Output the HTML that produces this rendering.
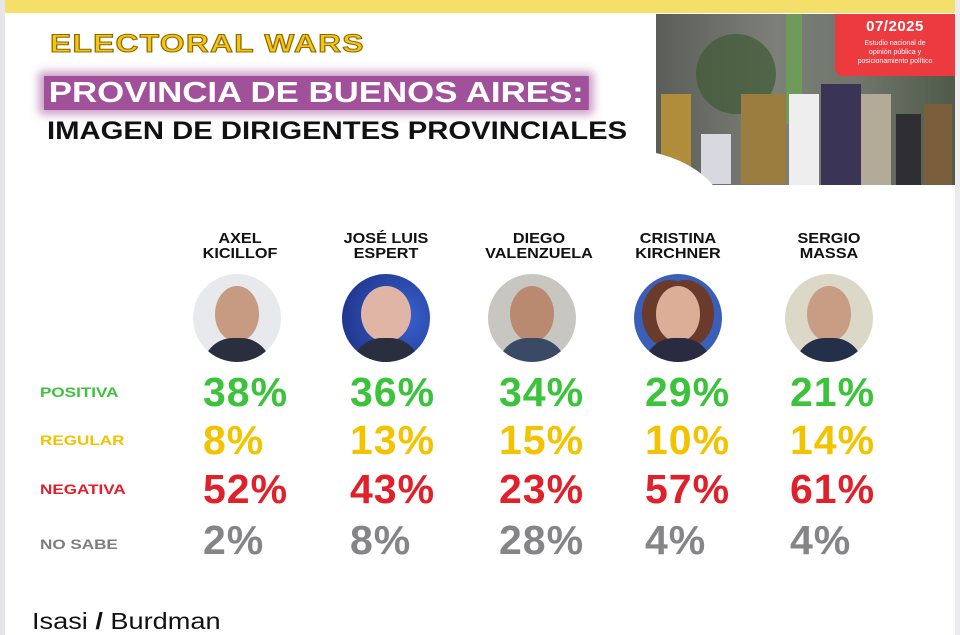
<!DOCTYPE html>
<html><head><meta charset="utf-8"><style>
body{margin:0;width:960px;height:635px;overflow:hidden;background:#fff;font-family:"Liberation Sans",sans-serif;position:relative}
.a{position:absolute}
.lab{position:absolute;left:40px;font-weight:bold;font-size:14px;line-height:16px;transform:scaleX(1.22);transform-origin:0 0}
.p{position:absolute;font-weight:bold;font-size:41px;line-height:41px;letter-spacing:1px}
.nm{position:absolute;width:140px;text-align:center;font-weight:bold;font-size:15px;line-height:15px;color:#111;transform:scaleX(1.08)}
.c{position:absolute;width:88px;height:88px;border-radius:50%;overflow:hidden;top:274px}
.face{position:absolute;left:22px;top:12px;width:44px;height:56px;border-radius:50%;background:#d6a890}
.body{position:absolute;left:10px;top:64px;width:68px;height:40px;border-radius:30px 30px 0 0;background:#2a2f40}
</style></head><body>
<div class="a" style="left:0;top:0;width:5px;height:635px;background:#e6e6ea"></div>
<div class="a" style="left:955px;top:0;width:5px;height:635px;background:#ececef"></div>
<div class="a" style="left:5px;top:0;width:950px;height:13px;background:#f4df6a"></div>

<div class="a" style="left:50px;top:30px;font-size:25px;font-weight:bold;color:#f6c416;letter-spacing:1px;-webkit-text-stroke:1px #8a6a00;line-height:28px;transform:scaleX(1.27);transform-origin:0 0">ELECTORAL WARS</div>
<div class="a" style="left:44px;top:76px;padding:0 4px;font-size:29px;font-weight:bold;color:#fff;line-height:34px;background:#a0519a;box-shadow:0 0 8px 4px rgba(160,81,154,.6);transform:scaleX(1.2);transform-origin:0 0">PROVINCIA DE BUENOS AIRES:</div>
<div class="a" style="left:47px;top:116px;font-size:25px;font-weight:bold;color:#111;line-height:30px;transform:scaleX(1.17);transform-origin:0 0">IMAGEN DE DIRIGENTES PROVINCIALES</div>

<div class="a" style="left:656px;top:14px;width:299px;height:171px;overflow:hidden;background:linear-gradient(90deg,#5b5e58,#7c8078 40%,#6d7468 70%,#4f5a4a);">
 <div class="a" style="left:40px;top:20px;width:80px;height:80px;border-radius:50%;background:#3f5a35;opacity:.7"></div>
 <div class="a" style="left:130px;top:0;width:16px;height:110px;background:#6e9b5a"></div>
 <div class="a" style="left:5px;top:80px;width:30px;height:90px;background:#b08d3a"></div>
 <div class="a" style="left:45px;top:120px;width:30px;height:50px;background:#d8d8e0"></div>
 <div class="a" style="left:85px;top:80px;width:45px;height:90px;background:#9a7d3f"></div>
 <div class="a" style="left:133px;top:80px;width:30px;height:91px;background:#eee"></div>
 <div class="a" style="left:165px;top:70px;width:40px;height:101px;background:#3a3456"></div>
 <div class="a" style="left:205px;top:80px;width:30px;height:91px;background:#b3aa98"></div>
 <div class="a" style="left:240px;top:100px;width:25px;height:71px;background:#2f2f33"></div>
 <div class="a" style="left:268px;top:90px;width:28px;height:81px;background:#7b5e3c"></div>
 <div class="a" style="left:-140px;top:135px;width:210px;height:140px;border-radius:50%;background:#fff"></div>
</div>
<div class="a" style="left:835px;top:14px;width:120px;height:62px;background:#ec3a3f;border-radius:0 0 0 8px;color:#fff;text-align:center">
 <div style="font-size:15px;font-weight:bold;line-height:18px;margin-top:4px;letter-spacing:.5px">07/2025</div>
 <div style="font-size:7px;line-height:9px;margin-top:3px">Estudio nacional de<br>opinión pública y<br>posicionamiento político</div>
</div>

<div class="nm" style="left:170px;top:231px">AXEL<br>KICILLOF</div>
<div class="nm" style="left:316px;top:231px">JOSÉ LUIS<br>ESPERT</div>
<div class="nm" style="left:469px;top:231px">DIEGO<br>VALENZUELA</div>
<div class="nm" style="left:608px;top:231px">CRISTINA<br>KIRCHNER</div>
<div class="nm" style="left:759px;top:231px">SERGIO<br>MASSA</div>

<div class="c" style="left:193px;background:#e8e9ec"><div class="face" style="background:#c79a82"></div><div class="body"></div></div>
<div class="c" style="left:342px;background:radial-gradient(circle at 70% 50%,#3a62d0,#1a2d80)"><div class="face" style="background:#e0b5a6;width:50px;left:19px"></div><div class="body"></div></div>
<div class="c" style="left:488px;background:#c8c6c0"><div class="face" style="background:#b98a70"></div><div class="body" style="background:#3a4a66"></div></div>
<div class="c" style="left:634px;background:#3a5fb8"><div class="face" style="background:#dcae98;box-shadow:-8px 0 0 6px #6a3a2a,8px 0 0 6px #6a3a2a"></div><div class="body" style="background:#2a2a40"></div></div>
<div class="c" style="left:785px;background:#dcd8c8"><div class="face" style="background:#c99c84"></div><div class="body" style="background:#24304a"></div></div>

<div class="lab" style="top:384px;color:#3cc33c">POSITIVA</div>
<div class="lab" style="top:432px;color:#f3c300">REGULAR</div>
<div class="lab" style="top:481px;color:#e0202a">NEGATIVA</div>
<div class="lab" style="top:536px;color:#7e7e80">NO SABE</div>

<div style="color:#3cc33c">
<div class="p" style="left:203px;top:372px">38%</div><div class="p" style="left:350px;top:372px">36%</div><div class="p" style="left:499px;top:372px">34%</div><div class="p" style="left:645px;top:372px">29%</div><div class="p" style="left:790px;top:372px">21%</div></div>
<div style="color:#f3c300">
<div class="p" style="left:203px;top:420px">8%</div><div class="p" style="left:350px;top:420px">13%</div><div class="p" style="left:499px;top:420px">15%</div><div class="p" style="left:645px;top:420px">10%</div><div class="p" style="left:790px;top:420px">14%</div></div>
<div style="color:#e0202a">
<div class="p" style="left:203px;top:469px">52%</div><div class="p" style="left:350px;top:469px">43%</div><div class="p" style="left:499px;top:469px">23%</div><div class="p" style="left:645px;top:469px">57%</div><div class="p" style="left:790px;top:469px">61%</div></div>
<div style="color:#858588">
<div class="p" style="left:203px;top:520px">2%</div><div class="p" style="left:350px;top:520px">8%</div><div class="p" style="left:499px;top:520px">28%</div><div class="p" style="left:645px;top:520px">4%</div><div class="p" style="left:790px;top:520px">4%</div></div>

<div class="a" style="left:32px;top:607px;font-size:23px;line-height:28px;color:#111;transform:scaleX(1.18);transform-origin:0 0">Isasi <b>/</b> Burdman</div>
</body></html>
